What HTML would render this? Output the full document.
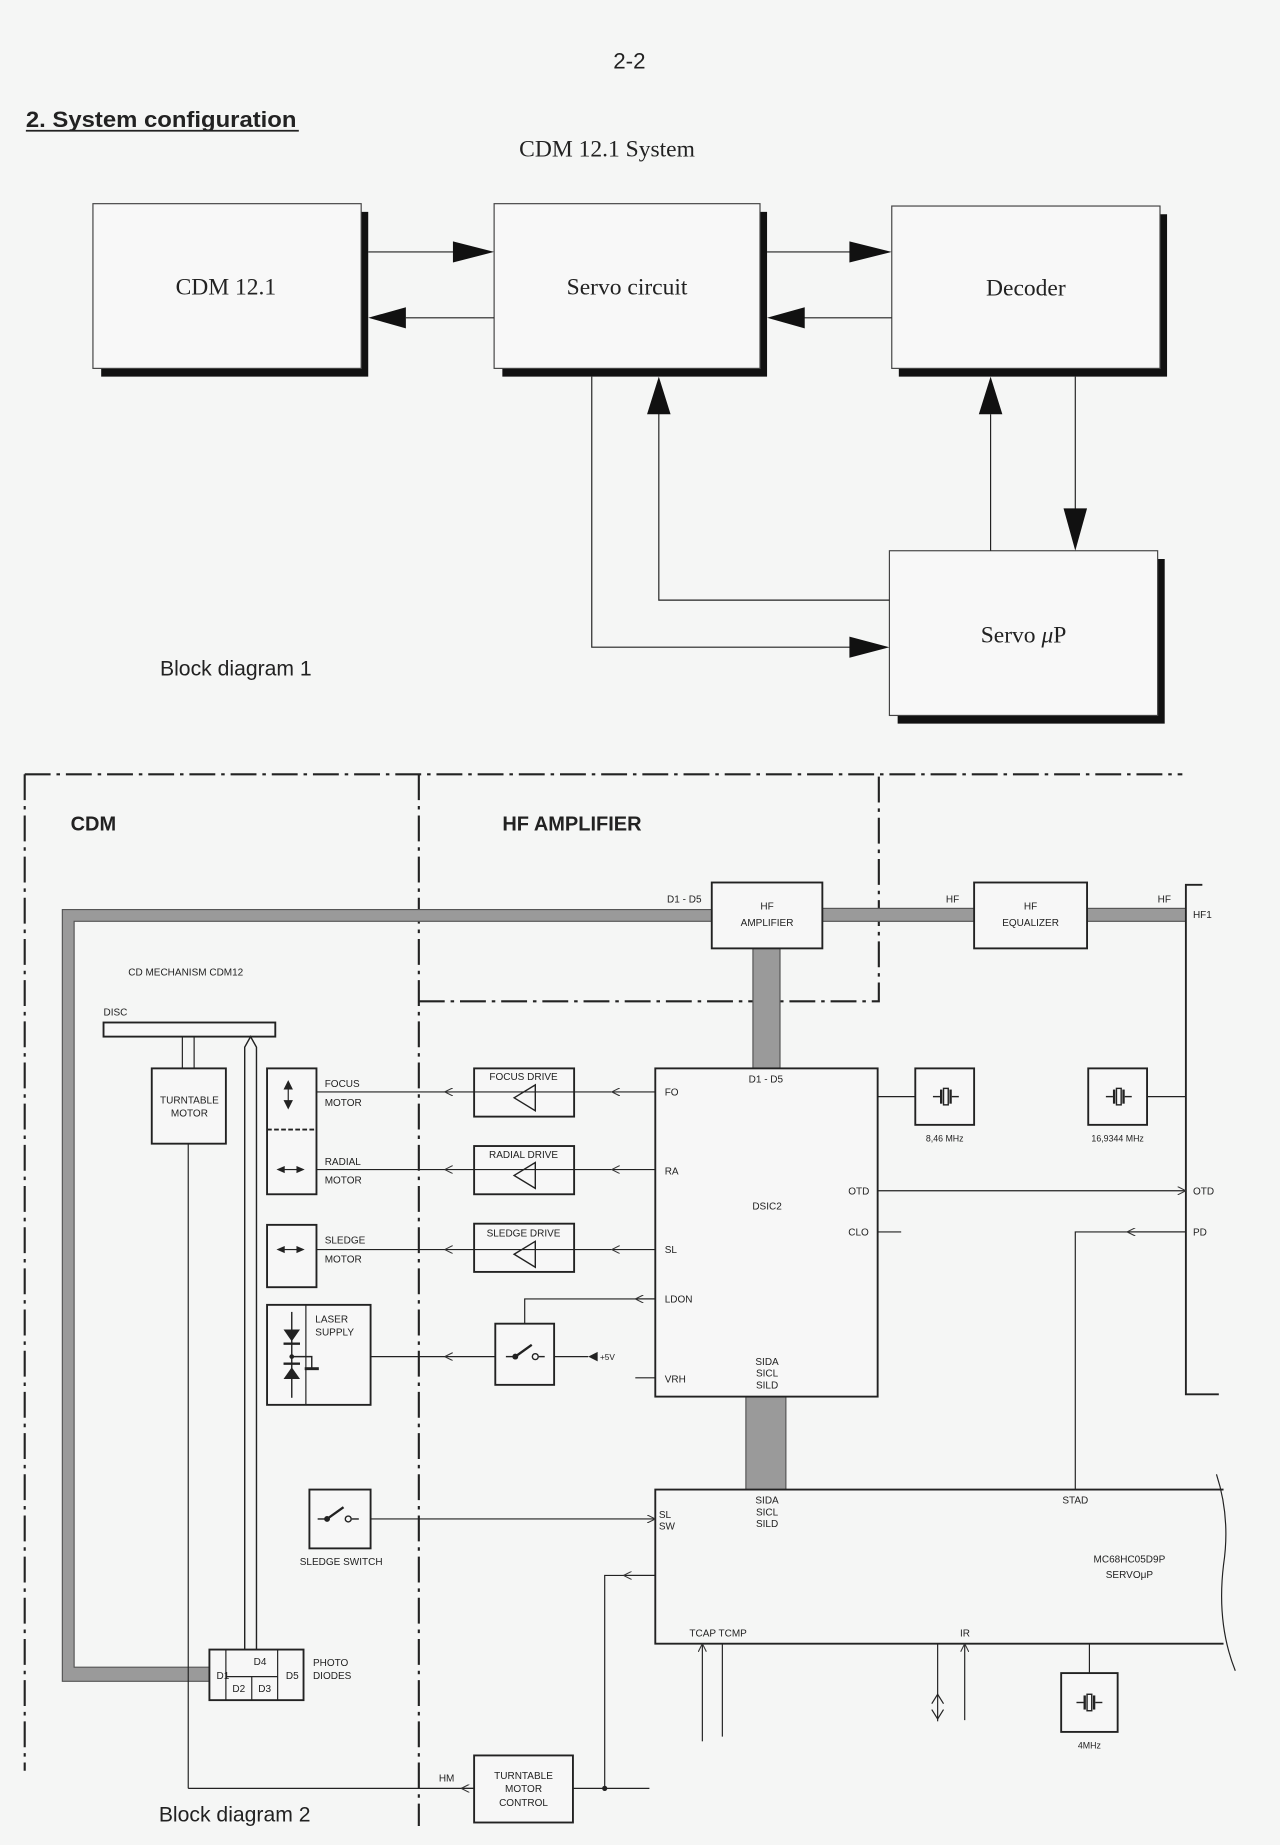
<!DOCTYPE html>
<html><head><meta charset="utf-8"><style>
html,body{margin:0;padding:0;background:#f5f6f5;}
svg{display:block}
text{font-family:"Liberation Sans",sans-serif;fill:#222}
.s{font-family:"Liberation Serif",serif}
</style></head><body>
<svg width="1280" height="1845" viewBox="0 0 1088 1568" xmlns="http://www.w3.org/2000/svg">
<rect width="1088" height="1568" fill="#f5f6f5"/>
<defs>
<marker id="oa" viewBox="0 0 10 10" refX="10" refY="5" markerWidth="7" markerHeight="7" orient="auto" markerUnits="userSpaceOnUse"><path d="M0,0 L10,5 L0,10" fill="none" stroke="#333" stroke-width="1.3"/></marker>
</defs>
<text x="535" y="58" font-size="19" text-anchor="middle">2-2</text>
<text x="22" y="108" font-size="19" font-weight="bold" textLength="230" lengthAdjust="spacingAndGlyphs">2. System configuration</text>
<line x1="22" y1="111" x2="254" y2="111" stroke="#222" stroke-width="1.5"/>
<text class="s" x="516" y="133" font-size="20" text-anchor="middle">CDM 12.1 System</text>

<g stroke="#222" fill="none">
<path d="M307,180 H313 V320 H86 V313 H307Z" fill="#111" stroke="none"/>
<path d="M646,180 H652 V320 H427 V313 H646Z" fill="#111" stroke="none"/>
<path d="M986,182 H992 V320 H764 V313 H986Z" fill="#111" stroke="none"/>
<path d="M984,475 H990 V615 H763 V608 H984Z" fill="#111" stroke="none"/>
<rect x="79" y="173" width="228" height="140" fill="#f8f8f8" stroke="#444"/>
<rect x="420" y="173" width="226" height="140" fill="#f8f8f8" stroke="#444"/>
<rect x="758" y="175" width="228" height="138" fill="#f8f8f8" stroke="#444"/>
<rect x="756" y="468" width="228" height="140" fill="#f8f8f8" stroke="#444"/>
<line x1="313" y1="214" x2="390" y2="214"/>
<line x1="345" y1="270" x2="420" y2="270"/>
<line x1="652" y1="214" x2="725" y2="214"/>
<line x1="682" y1="270" x2="758" y2="270"/>
<polyline points="560,350 560,510 756,510"/>
<polyline points="503,320 503,550 725,550"/>
<line x1="842" y1="352" x2="842" y2="468"/>
<line x1="914" y1="320" x2="914" y2="435"/>
</g>
<g fill="#111">
<polygon points="385,205 420,214 385,223"/>
<polygon points="345,261 313,270 345,279"/>
<polygon points="722,205 758,214 722,223"/>
<polygon points="684,261 652,270 684,279"/>
<polygon points="550,352 560,320 570,352"/>
<polygon points="832,352 842,320 852,352"/>
<polygon points="904,432 914,468 924,432"/>
<polygon points="722,541 756,550 722,559"/>
</g>
<text class="s" x="192" y="250" font-size="20" text-anchor="middle">CDM 12.1</text>
<text class="s" x="533" y="250" font-size="20" text-anchor="middle">Servo circuit</text>
<text class="s" x="872" y="251" font-size="20" text-anchor="middle">Decoder</text>
<text class="s" x="870" y="546" font-size="20" text-anchor="middle">Servo <tspan font-style="italic">μ</tspan>P</text>
<text x="136" y="574" font-size="18">Block diagram 1</text>

<g stroke="#222" stroke-width="1.8" fill="none" stroke-dasharray="22,5,3,5">
<line x1="21" y1="658" x2="21" y2="1505"/>
<line x1="21" y1="658" x2="1005" y2="658"/>
<line x1="356" y1="658" x2="356" y2="1552"/>
<polyline points="356,851 747,851 747,658"/>
</g>
<text x="60" y="706" font-size="17" font-weight="bold">CDM</text>
<text x="427" y="706" font-size="17" font-weight="bold">HF AMPLIFIER</text>

<g fill="#9a9a9a" stroke="#555" stroke-width="1">
<path d="M53,773 H605 V783 H63 V1417 H178 V1429 H53Z"/>
<rect x="699" y="772" width="129" height="11"/>
<rect x="924" y="772" width="84" height="11"/>
<rect x="640" y="806" width="23" height="102"/>
<rect x="634" y="1187" width="34" height="79"/>
</g>

<g stroke="#222" stroke-width="1.6" fill="#f7f7f7">
<rect x="605" y="750" width="94" height="56"/>
<rect x="828" y="750" width="96" height="56"/>
<rect x="557" y="908" width="189" height="279"/>
<rect x="778" y="908" width="50" height="48"/>
<rect x="925" y="908" width="50" height="48"/>
<rect x="902" y="1422" width="48" height="50"/>
<rect x="88" y="869" width="146" height="12"/>
<rect x="129" y="908" width="63" height="64"/>
<rect x="227" y="908" width="42" height="107"/>
<rect x="227" y="1041" width="42" height="53"/>
<rect x="227" y="1109" width="88" height="85"/>
<rect x="403" y="908" width="85" height="41"/>
<rect x="403" y="974" width="85" height="41"/>
<rect x="403" y="1040" width="85" height="41"/>
<rect x="421" y="1125" width="50" height="52"/>
<rect x="263" y="1266" width="52" height="50"/>
<rect x="178" y="1402" width="80" height="43"/>
<rect x="403" y="1492" width="84" height="57"/>
</g>
<g stroke="#222" fill="none">
<path d="M1040,1266 H557 V1397 H1040" stroke-width="1.6"/>
<path d="M1034,1253 Q1046,1290 1040,1330 Q1034,1380 1050,1420" stroke-width="1"/>
<polyline points="1022,752 1008,752 1008,1185 1036,1185" stroke-width="1.6"/>
<line x1="227" y1="960" x2="269" y2="960" stroke-dasharray="4,2" stroke-width="1.6"/>
<line x1="260" y1="1109" x2="260" y2="1194"/>
<path d="M208,1402 V890 L213,881 L218,890 V1402" stroke-width="1.2"/>
<line x1="155" y1="881" x2="155" y2="908"/><line x1="165" y1="881" x2="165" y2="908"/>
<line x1="160" y1="972" x2="160" y2="1520"/>
<line x1="160" y1="1520" x2="403" y2="1520"/>
<line x1="403" y1="1520" x2="392" y2="1520" marker-end="url(#oa)"/>
<line x1="192" y1="1402" x2="192" y2="1445"/><line x1="236" y1="1402" x2="236" y2="1445"/>
<line x1="192" y1="1425" x2="236" y2="1425"/><line x1="214" y1="1425" x2="214" y2="1445"/>
<line x1="488" y1="928" x2="378" y2="928" marker-end="url(#oa)"/><line x1="378" y1="928" x2="269" y2="928"/>
<line x1="488" y1="994" x2="378" y2="994" marker-end="url(#oa)"/><line x1="378" y1="994" x2="269" y2="994"/>
<line x1="488" y1="1062" x2="378" y2="1062" marker-end="url(#oa)"/><line x1="378" y1="1062" x2="269" y2="1062"/>
<line x1="421" y1="1153" x2="378" y2="1153" marker-end="url(#oa)"/><line x1="378" y1="1153" x2="315" y2="1153"/>
<line x1="557" y1="928" x2="520" y2="928" marker-end="url(#oa)"/><line x1="520" y1="928" x2="488" y2="928"/>
<line x1="557" y1="994" x2="520" y2="994" marker-end="url(#oa)"/><line x1="520" y1="994" x2="488" y2="994"/>
<line x1="557" y1="1062" x2="520" y2="1062" marker-end="url(#oa)"/><line x1="520" y1="1062" x2="488" y2="1062"/>
<polyline points="446,1125 446,1104 557,1104"/>
<line x1="557" y1="1104" x2="540" y2="1104" marker-end="url(#oa)"/>
<line x1="540" y1="1171" x2="557" y2="1171"/>
<line x1="471" y1="1153" x2="500" y2="1153"/>
<line x1="746" y1="1012" x2="1008" y2="1012" marker-end="url(#oa)"/>
<line x1="746" y1="1047" x2="766" y2="1047"/>
<polyline points="1008,1047 914,1047 914,1266"/>
<line x1="1008" y1="1047" x2="958" y2="1047" marker-end="url(#oa)"/>
<line x1="746" y1="932" x2="778" y2="932"/>
<line x1="975" y1="932" x2="1008" y2="932"/>
<line x1="926" y1="1397" x2="926" y2="1422"/>
<line x1="315" y1="1291" x2="557" y2="1291" marker-end="url(#oa)"/>
<polyline points="514,1520 514,1339 557,1339"/>
<line x1="557" y1="1339" x2="530" y2="1339" marker-end="url(#oa)"/>
<line x1="487" y1="1520" x2="552" y2="1520"/>
<line x1="597" y1="1480" x2="597" y2="1397" marker-end="url(#oa)"/>
<line x1="614" y1="1397" x2="614" y2="1476"/>
<line x1="797" y1="1397" x2="797" y2="1463"/>
<polyline points="792,1448 797,1440 802,1448" /><polyline points="792,1453 797,1461 802,1453"/>
<line x1="820" y1="1462" x2="820" y2="1397" marker-end="url(#oa)"/>
</g>
<circle cx="514" cy="1520" r="2.2" fill="#222"/>
<g fill="none" stroke="#222" stroke-width="1.2">
<polygon points="437,933 455,922 455,944"/>
<polygon points="437,999 455,988 455,1010"/>
<polygon points="437,1066 455,1055 455,1077"/>
<g><line x1="793" y1="932" x2="799" y2="932"/><line x1="800" y1="926" x2="800" y2="938" stroke-width="2"/><rect x="802" y="925" width="4" height="14"/><line x1="808" y1="926" x2="808" y2="938" stroke-width="2"/><line x1="809" y1="932" x2="815" y2="932"/></g>
<g transform="translate(147,0)"><line x1="793" y1="932" x2="799" y2="932"/><line x1="800" y1="926" x2="800" y2="938" stroke-width="2"/><rect x="802" y="925" width="4" height="14"/><line x1="808" y1="926" x2="808" y2="938" stroke-width="2"/><line x1="809" y1="932" x2="815" y2="932"/></g>
<g transform="translate(122,515)"><line x1="793" y1="932" x2="799" y2="932"/><line x1="800" y1="926" x2="800" y2="938" stroke-width="2"/><rect x="802" y="925" width="4" height="14"/><line x1="808" y1="926" x2="808" y2="938" stroke-width="2"/><line x1="809" y1="932" x2="815" y2="932"/></g>
<line x1="430" y1="1153" x2="438" y2="1153"/><line x1="438" y1="1153" x2="452" y2="1143" stroke-width="2"/><circle cx="455" cy="1153" r="2.5"/><line x1="458" y1="1153" x2="463" y2="1153"/>
<line x1="270" y1="1291" x2="278" y2="1291"/><line x1="278" y1="1291" x2="292" y2="1281" stroke-width="2"/><circle cx="296" cy="1291" r="2.5"/><line x1="299" y1="1291" x2="305" y2="1291"/>
<line x1="248" y1="1115" x2="248" y2="1188"/>
<polyline points="248,1153 265,1153 265,1163"/>
</g>
<circle cx="438" cy="1153" r="2.5" fill="#222"/><circle cx="278" cy="1291" r="2.5" fill="#222"/>
<g fill="#222">
<polygon points="241,1130 255,1130 248,1140"/><rect x="241" y="1141" width="14" height="2"/>
<polygon points="241,1172 255,1172 248,1162"/><rect x="241" y="1158" width="14" height="2"/>
<circle cx="248" cy="1153" r="2"/><rect x="259" y="1162" width="12" height="2.5"/>
<polygon points="500,1153 508,1149 508,1157"/>
<polygon points="245,918 249,926 241,926"/><polygon points="245,943 249,935 241,935"/><rect x="244.5" y="925" width="1" height="11"/>
<polygon points="235,994 242,991 242,997"/><polygon points="259,994 252,991 252,997"/><rect x="241" y="993.5" width="12" height="1"/>
<polygon points="235,1062 242,1059 242,1065"/><polygon points="259,1062 252,1059 252,1065"/><rect x="241" y="1061.5" width="12" height="1"/>
</g>

<g font-size="8.5">
<text x="567" y="767">D1 - D5</text>
<text x="652" y="773" text-anchor="middle">HF</text><text x="652" y="787" text-anchor="middle">AMPLIFIER</text>
<text x="804" y="767">HF</text><text x="984" y="767">HF</text>
<text x="876" y="773" text-anchor="middle">HF</text><text x="876" y="787" text-anchor="middle">EQUALIZER</text>
<text x="1014" y="780">HF1</text>
<text x="109" y="829">CD MECHANISM CDM12</text>
<text x="88" y="863">DISC</text>
<text x="161" y="938" text-anchor="middle">TURNTABLE</text><text x="161" y="949" text-anchor="middle">MOTOR</text>
<text x="276" y="924">FOCUS</text><text x="276" y="940">MOTOR</text>
<text x="276" y="990">RADIAL</text><text x="276" y="1006">MOTOR</text>
<text x="276" y="1057">SLEDGE</text><text x="276" y="1073">MOTOR</text>
<text x="268" y="1124">LASER</text><text x="268" y="1135">SUPPLY</text>
<text x="445" y="918" text-anchor="middle">FOCUS  DRIVE</text>
<text x="445" y="984" text-anchor="middle">RADIAL  DRIVE</text>
<text x="445" y="1051" text-anchor="middle">SLEDGE  DRIVE</text>
<text x="510" y="1156" font-size="7">+5V</text>
<text x="651" y="920" text-anchor="middle">D1 - D5</text>
<text x="565" y="931">FO</text><text x="565" y="998">RA</text><text x="565" y="1065">SL</text><text x="565" y="1107">LDON</text><text x="565" y="1175">VRH</text>
<text x="652" y="1028" text-anchor="middle">DSIC2</text>
<text x="721" y="1015">OTD</text><text x="721" y="1050">CLO</text>
<text x="652" y="1160" text-anchor="middle">SIDA</text><text x="652" y="1170" text-anchor="middle">SICL</text><text x="652" y="1180" text-anchor="middle">SILD</text>
<text x="803" y="970" text-anchor="middle" font-size="7.5">8,46 MHz</text>
<text x="950" y="970" text-anchor="middle" font-size="7.5">16,9344 MHz</text>
<text x="1014" y="1015">OTD</text><text x="1014" y="1050">PD</text>
<text x="290" y="1330" text-anchor="middle">SLEDGE SWITCH</text>
<text x="560" y="1290">SL</text><text x="560" y="1300">SW</text>
<text x="652" y="1278" text-anchor="middle">SIDA</text><text x="652" y="1288" text-anchor="middle">SICL</text><text x="652" y="1298" text-anchor="middle">SILD</text>
<text x="914" y="1278" text-anchor="middle">STAD</text>
<text x="960" y="1328" text-anchor="middle">MC68HC05D9P</text><text x="960" y="1341" text-anchor="middle">SERVOμP</text>
<text x="586" y="1391">TCAP  TCMP</text><text x="816" y="1391">IR</text>
<text x="926" y="1486" text-anchor="middle" font-size="7.5">4MHz</text>
<text x="184" y="1427">D1</text><text x="221" y="1415" text-anchor="middle">D4</text>
<text x="203" y="1438" text-anchor="middle">D2</text><text x="225" y="1438" text-anchor="middle">D3</text><text x="243" y="1427">D5</text>
<text x="266" y="1416">PHOTO</text><text x="266" y="1427">DIODES</text>
<text x="373" y="1514">HM</text>
<text x="445" y="1512" text-anchor="middle">TURNTABLE</text><text x="445" y="1523" text-anchor="middle">MOTOR</text><text x="445" y="1535" text-anchor="middle">CONTROL</text>
</g>
<text x="135" y="1548" font-size="18">Block diagram 2</text>
</svg>
</body></html>
